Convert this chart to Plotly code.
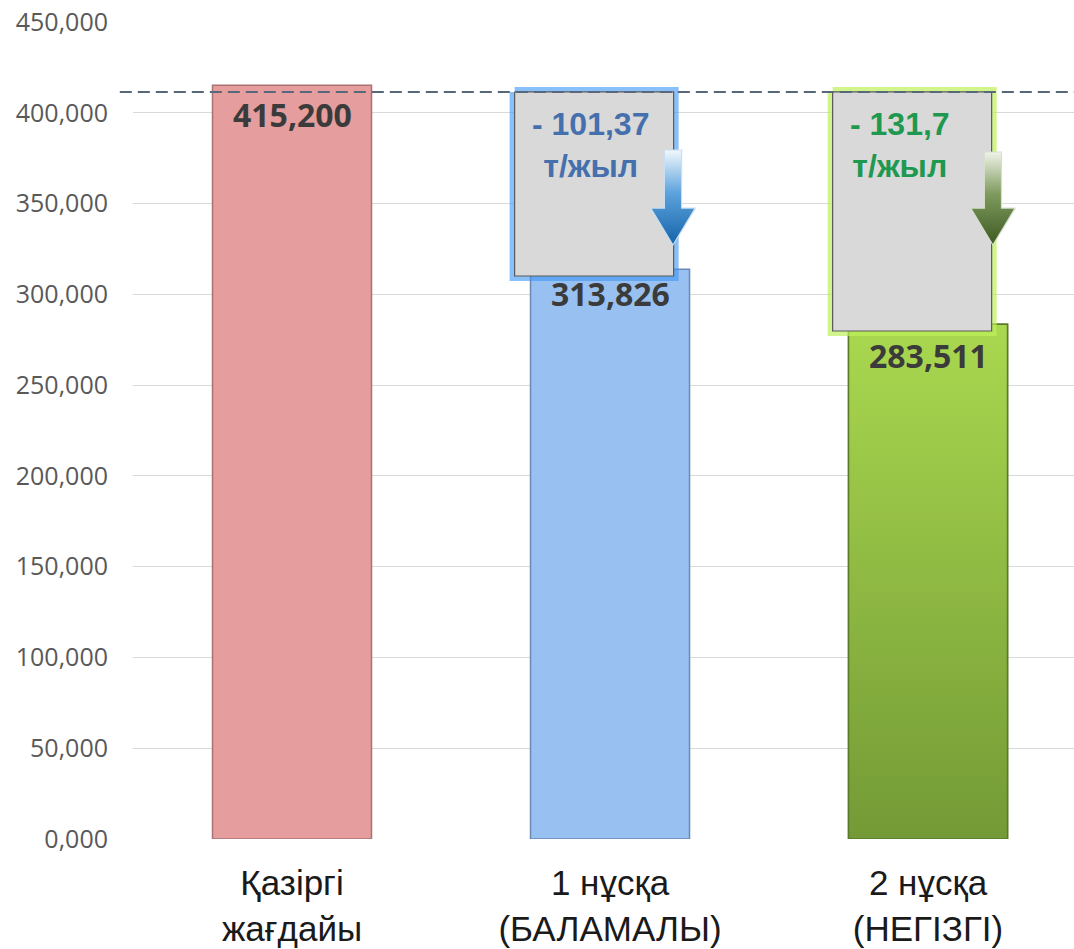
import plotly.graph_objects as go

# ---------------- data ----------------
categories = ["Қазіргі<br>жағдайы", "1 нұсқа<br>(БАЛАМАЛЫ)", "2 нұсқа<br>(НЕГІЗГІ)"]
values = [415.2, 313.826, 283.511]          # т/жыл
reductions = [101.37, 131.7]                 # т/жыл, for options 1 and 2
reduction_unit = "т/жыл"
reference_level = 411.5                      # dashed reference line
y_tick_vals = [0, 50, 100, 150, 200, 250, 300, 350, 400, 450]

# ---------------- styles ----------------
bar_colors = ["#e59d9d", "#98c0f0", "#8db443"]
bar_edges = ["#a97373", "#6a8ab3", "#5a7a2a"]
green_grad = [[0, "#739a36"], [1, "#aad84f"]]
box_glow = ["rgba(60,150,245,0.6)", "rgba(190,240,90,0.7)"]
text_colors = ["#4670ad", "#1f9850"]
arrow_grads = [
    [[0, "#1463aa"], [0.55, "#5da3dc"], [1, "#f2f8fd"]],
    [[0, "#3f5a22"], [0.55, "#7f9a5e"], [1, "#f0f4ea"]],
]
arrow_edges = ["#c9def2", "#d6dfcc"]
label_shift = [-29, -24, -31]

x = list(range(len(categories)))
bar_w = 0.5

def fmt(v, d):
    return f"{v:.{d}f}".replace(".", ",")

fig = go.Figure()

fig.add_trace(go.Bar(
    x=x, y=values, width=bar_w,
    marker=dict(color=bar_colors, line=dict(color=bar_edges, width=1.5)),
    hoverinfo="skip", showlegend=False,
))

# gradient overlay for the green bar
gx = x[2]
fig.add_trace(go.Scatter(
    x=[gx - bar_w / 2, gx + bar_w / 2, gx + bar_w / 2, gx - bar_w / 2, gx - bar_w / 2],
    y=[0, 0, values[2], values[2], 0],
    mode="lines", fill="toself",
    fillgradient=dict(type="vertical", colorscale=green_grad),
    line=dict(color=bar_edges[2], width=1.5),
    hoverinfo="skip", showlegend=False,
))

# callout boxes (options 1 and 2)
box_x = [(0.70, 1.20), (1.70, 2.20)]
box_bottom = [310.1, 279.8]
for i in range(2):
    x0, x1 = box_x[i]
    xs = [x0, x1, x1, x0, x0]
    ys = [reference_level, reference_level, box_bottom[i], box_bottom[i], reference_level]
    fig.add_trace(go.Scatter(x=xs, y=ys, mode="lines",
                             line=dict(color=box_glow[i], width=10),
                             hoverinfo="skip", showlegend=False))
    fig.add_trace(go.Scatter(x=xs, y=ys, mode="lines", fill="toself",
                             fillcolor="#d9d9d9",
                             line=dict(color="#5a5a5a", width=1.2),
                             hoverinfo="skip", showlegend=False))

# down arrows
arrow_cx = [1.198, 2.204]
arrow_top = [379.5, 378.4]
head_y = 347.5
tip_y = 327.2
shaft_hw = 0.027
head_hw = 0.07
for i in range(2):
    c = arrow_cx[i]
    xs = [c - shaft_hw, c + shaft_hw, c + shaft_hw, c + head_hw, c, c - head_hw, c - shaft_hw, c - shaft_hw]
    ys = [arrow_top[i], arrow_top[i], head_y, head_y, tip_y, head_y, head_y, arrow_top[i]]
    fig.add_trace(go.Scatter(x=xs, y=ys, mode="lines", fill="toself",
                             fillgradient=dict(type="vertical", colorscale=arrow_grads[i]),
                             line=dict(color=arrow_edges[i], width=1.2),
                             hoverinfo="skip", showlegend=False))

# dashed reference line
fig.add_shape(type="line", xref="paper", yref="y",
              x0=-0.014, x1=1, y0=reference_level, y1=reference_level,
              line=dict(color="#56687a", width=2, dash="12px,6px"), layer="above")

# bar value labels
for i, v in enumerate(values):
    fig.add_annotation(x=x[i], y=v, yshift=label_shift[i], yanchor="middle", showarrow=False,
                       text=fmt(v, 3),
                       font=dict(family="Open Sans", size=32, color="#3b3b3b", weight="bold"))

# reduction texts in boxes
red_text_x = [0.94, 1.912]
red_decimals = [2, 1]
for i in range(2):
    fig.add_annotation(x=red_text_x[i], y=382.2, yanchor="middle", showarrow=False,
                       text=f"- {fmt(reductions[i], red_decimals[i])}<br>{reduction_unit}",
                       align="center",
                       font=dict(family="Liberation Sans", size=32, color=text_colors[i], weight="bold"))

fig.update_layout(
    width=1074, height=949,
    margin=dict(l=133, r=0, t=22, b=110),
    paper_bgcolor="white", plot_bgcolor="white",
    separators=",.",
    showlegend=False,
    bargap=0.5,
    xaxis=dict(
        range=[-0.5, 2.459], tickvals=x, ticktext=categories,
        showgrid=False, zeroline=False, showline=False, ticks="",
        tickfont=dict(family="Liberation Sans", size=35, color="#1a1a1a"),
        ticklabelstandoff=20,
    ),
    yaxis=dict(
        range=[0, 450], tickvals=y_tick_vals, tickformat=".3f",
        showgrid=True, gridcolor="#d9d9d9", gridwidth=1,
        zeroline=False, showline=False, ticks="",
        tickfont=dict(family="Open Sans", size=25, color="#595959"),
        ticklabelstandoff=24,
    ),
)

fig.write_html("out.html")
